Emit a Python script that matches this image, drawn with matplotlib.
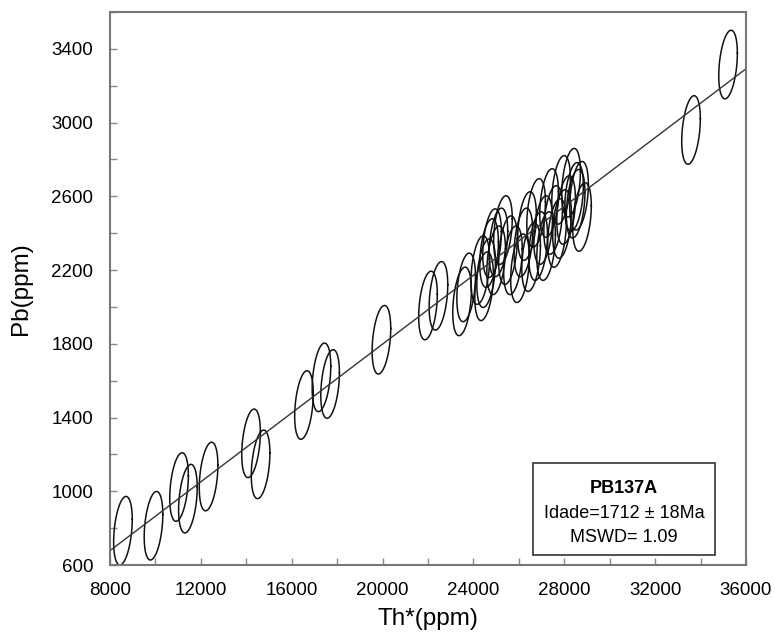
import numpy as np
import matplotlib
matplotlib.use('Agg')
import matplotlib.pyplot as plt
from matplotlib.ticker import MultipleLocator

plt.rcParams['font.family'] = ['Liberation Sans', 'DejaVu Sans']

# ellipse centres: Th* (ppm) and Pb (ppm)
th = [8570, 9915, 11040, 11430, 12340, 14210, 14630, 16540, 17310, 17690,
      19950, 22000, 22460, 23500, 23680, 24470, 24560, 24690, 24820, 25000,
      25300, 25520, 25740, 26050, 26360, 26540, 26760, 26850, 27070, 27330,
      27510, 27680, 27860, 28080, 28300, 28430, 28650, 28780, 33580, 35210,
      24300, 25100, 26200, 27200, 27900, 28500]
pb = [786, 813, 1023, 960, 1080, 1260, 1146, 1468, 1618, 1582,
      1822, 2008, 2060, 2030, 2106, 2112, 2183, 2292, 2346, 2253,
      2417, 2308, 2253, 2210, 2439, 2270, 2510, 2330, 2417, 2564,
      2472, 2401, 2635, 2526, 2674, 2597, 2603, 2488, 2960, 3315,
      2200, 2350, 2350, 2330, 2450, 2560]
# ellipse half-axes and correlation
sig_th = 410
sig_pb = 186
rho = 0.33

# regression line
line_th = [8000, 36000]
line_pb = [678, 3292]

fig = plt.figure(figsize=(7.75, 6.34), dpi=100)
ax = fig.add_axes([110/775, 1-565/634, 636/775, 553/634])

t = np.linspace(0, 2*np.pi, 200)
for x0, y0 in zip(th, pb):
    ex = x0 + sig_th*np.cos(t)
    ey = y0 + sig_pb*(rho*np.cos(t) + np.sqrt(1-rho**2)*np.sin(t))
    ax.plot(ex, ey, color='#111111', lw=1.1)

ax.plot(line_th, line_pb, color='#333333', lw=1.0)

ax.set_xlim(8000, 36000)
ax.set_ylim(600, 3600)
ax.xaxis.set_major_locator(MultipleLocator(4000))
ax.xaxis.set_minor_locator(MultipleLocator(2000))
ax.set_yticks(np.arange(600, 3401, 400))
ax.yaxis.set_minor_locator(MultipleLocator(200))
ax.tick_params(which='both', direction='in', length=5, width=1, color='#888888',
               labelsize=13.5, top=False, right=False)
ax.tick_params(axis='x', pad=12)
ax.tick_params(axis='y', pad=12)
for s in ax.spines.values():
    s.set_color('#777777')
    s.set_linewidth(1.5)

ax.set_xlabel('Th*(ppm)', fontsize=17.5, labelpad=7)
ax.set_ylabel('Pb(ppm)', fontsize=17.5, labelpad=14)

box = plt.Rectangle((0.665, 0.018), 0.286, 0.166, transform=ax.transAxes,
                    fill=True, facecolor='white', edgecolor='#333333', lw=1.2, zorder=5)
ax.add_patch(box)
ax.text(0.808, 0.138, 'PB137A', transform=ax.transAxes, ha='center', va='center',
        fontsize=13, fontweight='bold', zorder=6)
ax.text(0.808, 0.094, 'Idade=1712 \u00b1 18Ma', transform=ax.transAxes, ha='center',
        va='center', fontsize=13, zorder=6)
ax.text(0.808, 0.050, 'MSWD= 1.09', transform=ax.transAxes, ha='center',
        va='center', fontsize=13, zorder=6)

fig.savefig('out.png', dpi=100)
